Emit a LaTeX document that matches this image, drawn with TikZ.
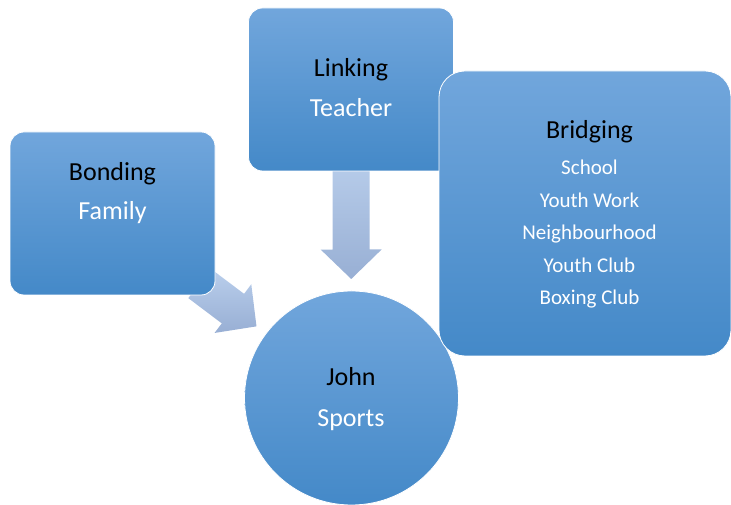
\documentclass[tikz,border=0pt]{standalone}
\usepackage{fontspec}
\setmainfont{Carlito}
\usetikzlibrary{calc,backgrounds}

\definecolor{boxtop}{RGB}{113,166,220}
\definecolor{boxbottom}{RGB}{68,137,200}
\definecolor{feedtop}{RGB}{186,207,236}
\definecolor{feedbottom}{RGB}{152,175,212}

\tikzset{
    tie/.style={draw=white, line width=0.8pt, top color=boxtop, bottom color=boxbottom},
    smallbox/.style={tie, rectangle, rounded corners=14pt, minimum width=205pt, minimum height=163pt, inner sep=0pt},
    bigbox/.style={tie, rectangle, rounded corners=26pt, minimum width=292pt, minimum height=285pt, inner sep=0pt},
    hub/.style={tie, circle, minimum size=214pt, inner sep=0pt},
    head/.style={anchor=base, inner sep=0pt, text=black, font=\fontsize{26}{30}\selectfont},
    member/.style={anchor=base, inner sep=0pt, text=white, font=\fontsize{26}{30}\selectfont},
    submember/.style={member, font=\fontsize{21}{25}\selectfont},
    feed/.style={top color=feedtop, bottom color=feedbottom}
}

% block arrow from #1 towards the centre of node #2
\newcommand{\feedarrow}[2]{
    \coordinate (tip) at ($(#2.center)!119pt!(#1)$);
    \coordinate (tail) at ($(#1)!-20pt!(tip)$);
    \coordinate (neck) at ($(tip)!29.5pt!(tail)$);
    \path[feed] (tip) -- ($(neck)!30.5pt!90:(tail)$) -- ($(neck)!18.5pt!90:(tail)$)
        -- ($(tail)!18.5pt!-90:(neck)$) -- ($(tail)!18.5pt!90:(neck)$)
        -- ($(neck)!18.5pt!-90:(tail)$) -- ($(neck)!30.5pt!-90:(tail)$) -- cycle;
}

\begin{document}
\begin{tikzpicture}[x=1pt, y=1pt]
    \useasboundingbox (0,0) rectangle (731,505);

    \node[hub] (john) at (351.5,107) {};
    \node[smallbox] (bonding) at (112.5,291.5) {};
    \node[smallbox] (linking) at (351,415.5) {};
    \node[bigbox] (bridging) at (585,291.5) {};

    \begin{scope}[on background layer]
        \feedarrow{bonding.south east}{john}
        \feedarrow{linking.south}{john}
    \end{scope}

    \node[head] (bondinghead) at (112.5,324) {Bonding};
    \node[member] (family) at (112.5,285) {Family};

    \node[head] (linkinghead) at (351,428) {Linking};
    \node[member] (teacher) at (351,388) {Teacher};

    \node[head] (johnhead) at (351,119) {John};
    \node[member] (sports) at (351,78) {Sports};

    \node[head] (bridginghead) at (589.5,366) {Bridging};
    \foreach \i/\j in {0/School, 1/Youth Work, 2/Neighbourhood, 3/Youth Club, 4/Boxing Club}{
        \node[submember] (b\i) at (589.5, 330-32.5*\i) {\j};
    }
\end{tikzpicture}
\end{document}
